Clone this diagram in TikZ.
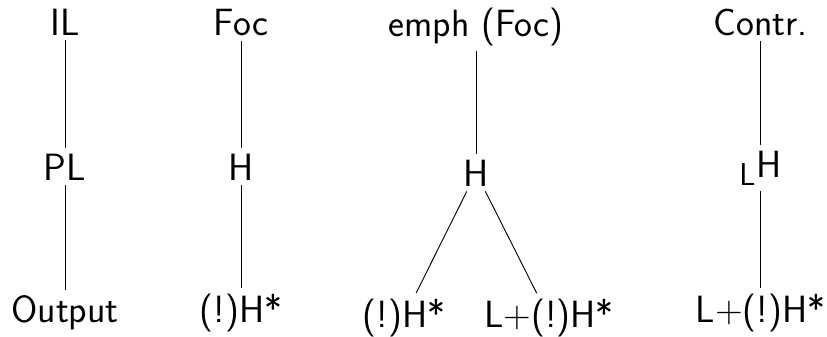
\documentclass[tikz,border=0pt]{standalone}
\usepackage{tikz}
\usetikzlibrary{positioning}

\begin{document}
\begin{tikzpicture}[
  x=0.655pt, y=-0.655pt,
  lbl/.style={font=\Huge\sffamily, anchor=base},
  link/.style={line width=0.6pt}
]
\useasboundingbox (0,0) rectangle (827,336);

%% ── Column 1 : IL ─────────────────────────────────────────────
\node[lbl] (il)   at (65, 35)  {IL};
\node[lbl] (pl)   at (65, 180) {PL};
\node[lbl] (outp) at (65, 322) {Output};

\draw[link] (il) -- (pl);
\draw[link] (pl) -- (outp);

%% ── Column 2 : Foc ────────────────────────────────────────────
\node[lbl] (foc)  at (241, 35)  {Foc};
\node[lbl] (hfoc) at (241, 180) {H};
\node[lbl] (sfoc) at (241, 322) {(!)H*};

\draw[link] (foc) -- (hfoc);
\draw[link] (hfoc) -- (sfoc);

%% ── Column 3 : emph (Foc) ─────────────────────────────────────
\node[lbl] (emph)  at (476, 36)  {emph (Foc)};
\node[lbl] (hemph) at (476, 186) {H};
\node[lbl] (semA)  at (404, 327) {(!)H*};
\node[lbl] (semB)  at (549, 327) {L+(!)H*};

\draw[link] (emph) -- (hemph);
\draw[link] (hemph) -- (semA);
\draw[link] (hemph) -- (semB);

%% ── Column 4 : Contr. ─────────────────────────────────────────
\node[lbl] (contr) at (760.5, 35)  {Contr.};
\node[lbl] (hcon)  at (760.5, 177) {\textsubscript{L}H};
\node[lbl] (scon)  at (760.5, 322) {L+(!)H*};

\draw[link] (contr) -- (hcon);
\draw[link] (hcon) -- (scon);

\end{tikzpicture}
\end{document}
